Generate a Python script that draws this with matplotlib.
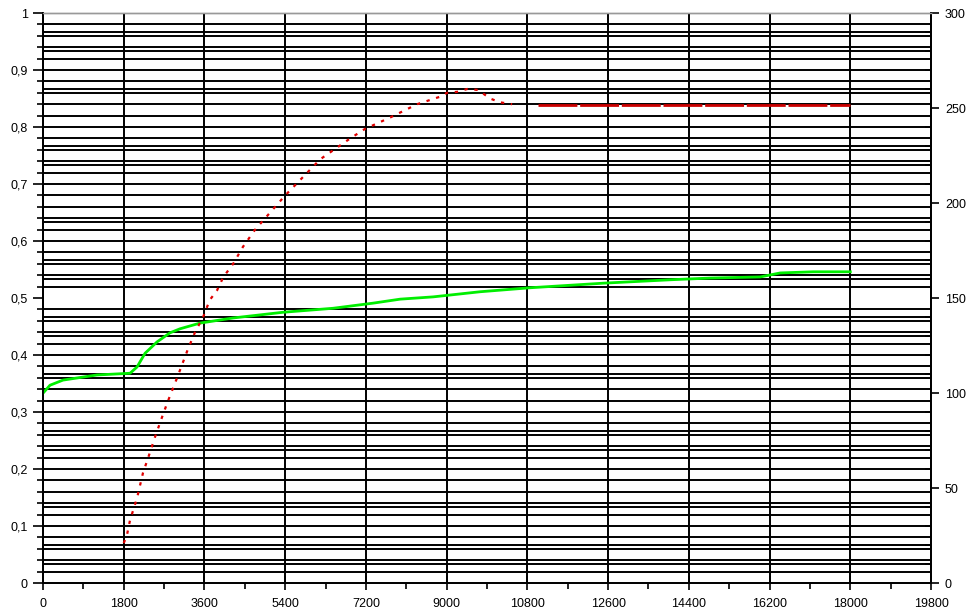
import matplotlib
matplotlib.use("Agg")
import matplotlib.pyplot as plt
from matplotlib.ticker import MultipleLocator, FuncFormatter

# green series (left axis)
green_x = [0, 156, 446, 1204, 1941, 2097, 2275, 2543, 2833, 3056, 3502, 4238,
           5353, 6468, 7361, 7963, 8699, 9747, 10862, 12490, 13984, 14877,
           15993, 16439, 17175, 18000]
green_y = [0.333, 0.347, 0.356, 0.365, 0.368, 0.379, 0.403, 0.423, 0.439, 0.446,
           0.456, 0.465, 0.475, 0.482, 0.491, 0.498, 0.502, 0.511, 0.518, 0.526,
           0.532, 0.535, 0.537, 0.544, 0.546, 0.546]

# red series (right axis), rising part then flat part
red_x = [1800, 1870, 1940, 2100, 2230, 2360, 2500, 2680, 2790, 2990, 3230, 3390,
         3570, 3720, 3880, 4020, 4240, 4460, 4730, 5400, 6180, 6850, 7180, 7740,
         8340, 8860, 9010, 9230, 9460, 9700, 9970, 10190, 10460]
red_y = [21, 25, 33, 45, 58, 67, 77, 89, 96, 108, 123, 132, 140, 149, 154, 161,
         168, 177, 186, 204, 223, 234, 239, 245, 252, 256, 258, 258.5, 260, 259.5,
         255, 253, 252]
red_flat_x = [11040, 18000]
red_flat_y = [251.5, 251.5]

x_ticks = list(range(0, 19801, 1800))
left_ticks = [0, 0.1, 0.2, 0.3, 0.4, 0.5, 0.6, 0.7, 0.8, 0.9, 1]
right_ticks = [0, 50, 100, 150, 200, 250, 300]

plt.rcParams["font.family"] = ["Liberation Sans", "DejaVu Sans"]

fig = plt.figure(figsize=(9.66, 6.11), dpi=100)
ax1 = fig.add_axes([0.0445, 0.0458, 0.9193, 0.9329])
ax2 = ax1.twinx()   # right axis + its gridlines, drawn behind
ax3 = ax1.twinx()   # red series on top
ax2.set_zorder(0)
ax1.set_zorder(1)
ax3.set_zorder(2)
ax1.patch.set_visible(False)
ax3.patch.set_visible(False)

for ax in (ax1, ax2, ax3):
    ax.set_xlim(0, 19800)
ax1.set_ylim(0, 1)
ax2.set_ylim(0, 300)
ax3.set_ylim(0, 300)

# x axis
ax1.set_xticks(x_ticks)
ax1.xaxis.set_minor_locator(MultipleLocator(900))
ax1.tick_params(axis="x", which="major", direction="inout", length=10, width=1.2,
                labelsize=9, pad=6)
ax1.tick_params(axis="x", which="minor", direction="out", length=4, width=1.2)

# left axis, comma decimals
ax1.set_yticks(left_ticks)
ax1.yaxis.set_minor_locator(MultipleLocator(0.02))
ax1.yaxis.set_major_formatter(FuncFormatter(lambda v, p: f"{v:g}".replace(".", ",")))
ax1.tick_params(axis="y", which="major", direction="out", length=7, width=1.2,
                labelsize=9, pad=4)
ax1.tick_params(axis="y", which="minor", direction="out", length=4, width=1.2)

# right axis
ax2.set_yticks(right_ticks)
ax2.yaxis.set_minor_locator(MultipleLocator(10))
ax2.tick_params(axis="y", which="major", direction="out", length=6, width=1.2,
                labelsize=9, pad=4)
ax2.tick_params(axis="y", which="minor", direction="in", length=4, width=1.2)
ax2.tick_params(axis="x", bottom=False, labelbottom=False)

# gridlines
ax1.grid(True, axis="y", which="minor", color="black", lw=1.4)
ax1.grid(True, axis="x", which="major", color="black", lw=1.4)
ax2.grid(True, axis="y", which="minor", color="black", lw=1.4)

ax3.axis("off")

for ax in (ax1, ax2):
    ax.spines["left"].set_linewidth(1.3)
    ax.spines["bottom"].set_linewidth(1.3)
    ax.spines["right"].set_linewidth(1.3)
    ax.spines["top"].set_color("#999999")
    ax.spines["top"].set_linestyle((0, (2, 1)))
    ax.spines["top"].set_linewidth(1)

ax1.plot(green_x, green_y, color="#00ee00", lw=2)
ax3.plot(red_x, red_y, color="#e00000", lw=1.6, linestyle=(0, (1.5, 3)))
ax3.plot(red_flat_x, red_flat_y, color="#cc0000", lw=2, linestyle=(0, (14, 1)))

fig.savefig("out.png", dpi=100)
